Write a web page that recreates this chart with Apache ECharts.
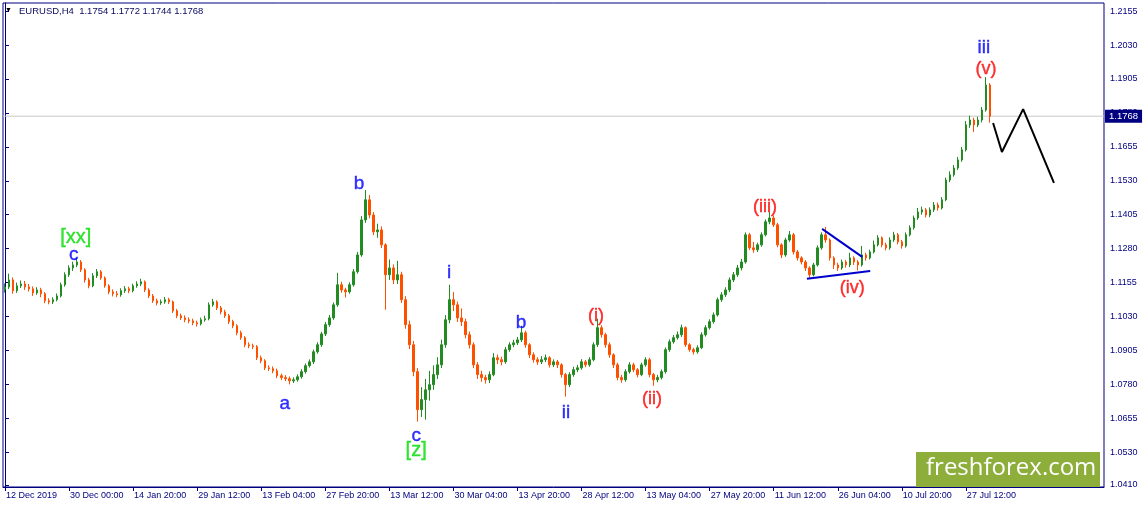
<!DOCTYPE html>
<html><head><meta charset="utf-8">
<script src="https://cdn.jsdelivr.net/npm/echarts@6/dist/echarts.min.js"></script>
<style>html,body{margin:0;padding:0;background:#fff}#c{width:1145px;height:509px}</style>
</head><body><div id="c"></div>
<script>
// ---- x axis (each slot = 4 H4 bars) ----
const tickLabels = ['12 Dec 2019','30 Dec 00:00','14 Jan 20:00','29 Jan 12:00','13 Feb 04:00','27 Feb 20:00','13 Mar 12:00','30 Mar 04:00','13 Apr 20:00','28 Apr 12:00','13 May 04:00','27 May 20:00','11 Jun 12:00','26 Jun 04:00','10 Jul 20:00','27 Jul 12:00'];
const tickStep = 16;
const slotCount = 275;

// ---- y axis ----
const yTicks = [1.2155,1.2030,1.1905,1.1780,1.1655,1.1530,1.1405,1.1280,1.1155,1.1030,1.0905,1.0780,1.0655,1.0530,1.0410];
const yMin = 1.0402, yMax = 1.2185;

// ---- price data ----
const opens = [1.1130,1.1139,1.1165,1.1125,1.1143,1.1150,1.1139,1.1132,1.1117,1.1128,
1.1114,1.1088,1.1084,1.1092,1.1106,1.1147,1.1184,1.1209,1.1220,1.1231,
1.1202,1.1165,1.1143,1.1180,1.1195,1.1172,1.1143,1.1121,1.1114,1.1110,
1.1125,1.1132,1.1125,1.1143,1.1150,1.1158,1.1128,1.1106,1.1088,1.1080,
1.1084,1.1092,1.1084,1.1051,1.1033,1.1025,1.1018,1.1014,1.1007,1.1003,
1.1018,1.1022,1.1073,1.1084,1.1062,1.1047,1.1033,1.1011,1.0996,1.0970,
1.0952,1.0926,1.0922,1.0919,1.0878,1.0867,1.0841,1.0838,1.0830,1.0812,
1.0805,1.0801,1.0793,1.0797,1.0808,1.0827,1.0849,1.0863,1.0900,1.0926,
1.0966,1.1000,1.1025,1.1073,1.1147,1.1128,1.1121,1.1147,1.1195,1.1257,
1.1386,1.1460,1.1404,1.1342,1.1349,1.1294,1.1184,1.1209,1.1165,1.1184,
1.1092,1.1000,1.0926,1.0827,1.0687,1.0724,1.0760,1.0779,1.0816,1.0852,
1.0926,1.1018,1.1092,1.1073,1.1025,1.1011,1.0963,1.0926,1.0852,1.0816,
1.0805,1.0797,1.0816,1.0878,1.0871,1.0863,1.0908,1.0926,1.0933,1.0944,
1.0970,1.0926,1.0889,1.0871,1.0863,1.0871,1.0878,1.0852,1.0863,1.0852,
1.0816,1.0779,1.0816,1.0834,1.0841,1.0863,1.0852,1.0871,1.0926,1.0989,
1.0963,1.0926,1.0889,1.0852,1.0805,1.0797,1.0827,1.0852,1.0834,1.0816,
1.0852,1.0871,1.0816,1.0797,1.0805,1.0827,1.0908,1.0937,1.0952,1.0963,
1.0989,1.0926,1.0908,1.0900,1.0915,1.0963,1.0989,1.1011,1.1036,1.1092,
1.1110,1.1128,1.1165,1.1184,1.1209,1.1231,1.1331,1.1283,1.1276,1.1294,
1.1331,1.1379,1.1393,1.1368,1.1294,1.1257,1.1312,1.1331,1.1268,1.1246,
1.1231,1.1209,1.1184,1.1220,1.1283,1.1331,1.1312,1.1246,1.1220,1.1209,
1.1231,1.1220,1.1246,1.1231,1.1220,1.1257,1.1246,1.1268,1.1294,1.1320,
1.1294,1.1283,1.1312,1.1331,1.1305,1.1290,1.1331,1.1357,1.1393,1.1415,
1.1423,1.1404,1.1423,1.1441,1.1430,1.1460,1.1533,1.1552,1.1577,1.1607,
1.1644,1.1736,1.1754,1.1736,1.1754,1.1791,1.1883];
const closes = [1.1139,1.1165,1.1125,1.1143,1.1150,1.1139,1.1132,1.1117,1.1128,1.1114,
1.1088,1.1084,1.1092,1.1106,1.1147,1.1184,1.1209,1.1220,1.1231,1.1202,
1.1165,1.1143,1.1180,1.1195,1.1172,1.1143,1.1121,1.1114,1.1110,1.1125,
1.1132,1.1125,1.1143,1.1150,1.1158,1.1128,1.1106,1.1088,1.1080,1.1084,
1.1092,1.1084,1.1051,1.1033,1.1025,1.1018,1.1014,1.1007,1.1003,1.1018,
1.1022,1.1073,1.1084,1.1062,1.1047,1.1033,1.1011,1.0996,1.0970,1.0952,
1.0926,1.0922,1.0919,1.0878,1.0867,1.0841,1.0838,1.0830,1.0812,1.0805,
1.0801,1.0793,1.0797,1.0808,1.0827,1.0849,1.0863,1.0900,1.0926,1.0966,
1.1000,1.1025,1.1073,1.1147,1.1128,1.1121,1.1147,1.1195,1.1257,1.1386,
1.1460,1.1404,1.1342,1.1349,1.1294,1.1184,1.1209,1.1165,1.1184,1.1092,
1.1000,1.0926,1.0827,1.0687,1.0724,1.0760,1.0779,1.0816,1.0852,1.0926,
1.1018,1.1092,1.1073,1.1025,1.1011,1.0963,1.0926,1.0852,1.0816,1.0805,
1.0797,1.0816,1.0878,1.0871,1.0863,1.0908,1.0926,1.0933,1.0944,1.0970,
1.0926,1.0889,1.0871,1.0863,1.0871,1.0878,1.0852,1.0863,1.0852,1.0816,
1.0779,1.0816,1.0834,1.0841,1.0863,1.0852,1.0871,1.0926,1.0989,1.0963,
1.0926,1.0889,1.0852,1.0805,1.0797,1.0827,1.0852,1.0834,1.0816,1.0852,
1.0871,1.0816,1.0797,1.0805,1.0827,1.0908,1.0937,1.0952,1.0963,1.0989,
1.0926,1.0908,1.0900,1.0915,1.0963,1.0989,1.1011,1.1036,1.1092,1.1110,
1.1128,1.1165,1.1184,1.1209,1.1231,1.1331,1.1283,1.1276,1.1294,1.1331,
1.1379,1.1393,1.1368,1.1294,1.1257,1.1312,1.1331,1.1268,1.1246,1.1231,
1.1209,1.1184,1.1220,1.1283,1.1331,1.1312,1.1246,1.1220,1.1209,1.1231,
1.1220,1.1246,1.1231,1.1220,1.1257,1.1246,1.1268,1.1294,1.1320,1.1294,
1.1283,1.1312,1.1331,1.1305,1.1290,1.1331,1.1357,1.1393,1.1415,1.1423,
1.1404,1.1423,1.1441,1.1430,1.1460,1.1533,1.1552,1.1577,1.1607,1.1644,
1.1736,1.1754,1.1736,1.1754,1.1791,1.1883,1.1768];
const highs = [1.1152,1.1188,1.1174,1.1155,1.1163,1.1161,1.1150,1.1141,1.1138,1.1136,
1.1120,1.1097,1.1101,1.1115,1.1155,1.1193,1.1219,1.1232,1.1246,1.1238,
1.1208,1.1172,1.1190,1.1205,1.1201,1.1178,1.1149,1.1130,1.1124,1.1134,
1.1142,1.1140,1.1151,1.1160,1.1169,1.1163,1.1134,1.1113,1.1096,1.1093,
1.1102,1.1099,1.1089,1.1058,1.1041,1.1034,1.1027,1.1022,1.1015,1.1026,
1.1033,1.1082,1.1095,1.1090,1.1069,1.1055,1.1040,1.1018,1.1002,1.0978,
1.0958,1.0935,1.0930,1.0925,1.0886,1.0873,1.0850,1.0846,1.0838,1.0820,
1.0814,1.0809,1.0806,1.0817,1.0836,1.0857,1.0872,1.0908,1.0935,1.0974,
1.1010,1.1036,1.1082,1.1191,1.1158,1.1136,1.1156,1.1205,1.1268,1.1400,
1.1496,1.1478,1.1415,1.1372,1.1362,1.1300,1.1240,1.1222,1.1235,1.1195,
1.1105,1.1015,1.0940,1.0840,1.0770,1.0800,1.0830,1.0850,1.0880,1.0945,
1.1035,1.1147,1.1120,1.1085,1.1060,1.1022,1.0975,1.0935,1.0862,1.0830,
1.0815,1.0828,1.0895,1.0890,1.0882,1.0918,1.0935,1.0944,1.0955,1.0996,
1.0978,1.0932,1.0898,1.0880,1.0884,1.0890,1.0884,1.0872,1.0870,1.0858,
1.0822,1.0825,1.0845,1.0852,1.0873,1.0870,1.0880,1.0935,1.1022,1.0998,
1.0970,1.0935,1.0895,1.0860,1.0815,1.0836,1.0862,1.0860,1.0840,1.0860,
1.0880,1.0878,1.0822,1.0815,1.0835,1.0916,1.0946,1.0962,1.0975,1.1000,
1.0994,1.0932,1.0915,1.0924,1.0972,1.0998,1.1020,1.1045,1.1100,1.1120,
1.1138,1.1174,1.1194,1.1220,1.1242,1.1340,1.1338,1.1305,1.1302,1.1340,
1.1388,1.1415,1.1402,1.1375,1.1300,1.1320,1.1345,1.1338,1.1275,1.1252,
1.1238,1.1215,1.1228,1.1292,1.1340,1.1360,1.1318,1.1252,1.1228,1.1240,
1.1238,1.1265,1.1252,1.1238,1.1290,1.1265,1.1276,1.1310,1.1330,1.1325,
1.1302,1.1322,1.1342,1.1338,1.1312,1.1340,1.1366,1.1402,1.1430,1.1435,
1.1430,1.1432,1.1452,1.1450,1.1470,1.1542,1.1565,1.1588,1.1618,1.1655,
1.1750,1.1770,1.1762,1.1766,1.1802,1.1912,1.1890];
const lows = [1.1118,1.1131,1.1114,1.1117,1.1135,1.1128,1.1122,1.1106,1.1110,1.1101,
1.1079,1.1075,1.1076,1.1086,1.1100,1.1140,1.1176,1.1198,1.1212,1.1194,
1.1155,1.1134,1.1138,1.1172,1.1165,1.1136,1.1112,1.1104,1.1101,1.1103,
1.1117,1.1116,1.1119,1.1136,1.1142,1.1120,1.1098,1.1080,1.1071,1.1073,
1.1077,1.1076,1.1043,1.1024,1.1017,1.1009,1.1005,1.0998,1.0993,1.0997,
1.1011,1.1016,1.1066,1.1054,1.1038,1.1025,1.1002,1.0987,1.0961,1.0944,
1.0917,1.0913,1.0910,1.0870,1.0858,1.0833,1.0829,1.0821,1.0803,1.0796,
1.0792,1.0780,1.0785,1.0790,1.0801,1.0820,1.0842,1.0855,1.0893,1.0918,
1.0958,1.0992,1.1018,1.1066,1.1118,1.1100,1.1114,1.1140,1.1188,1.1250,
1.1375,1.1392,1.1330,1.1320,1.1282,1.1055,1.1165,1.1150,1.1150,1.1080,
1.0985,1.0910,1.0810,1.0643,1.0660,1.0650,1.0720,1.0760,1.0800,1.0840,
1.0915,1.1005,1.1050,1.1010,1.0995,1.0950,1.0912,1.0840,1.0800,1.0790,
1.0783,1.0785,1.0810,1.0855,1.0850,1.0856,1.0900,1.0917,1.0925,1.0936,
1.0915,1.0877,1.0860,1.0852,1.0855,1.0862,1.0842,1.0844,1.0840,1.0805,
1.0735,1.0770,1.0808,1.0825,1.0834,1.0843,1.0845,1.0865,1.0918,1.0952,
1.0915,1.0878,1.0840,1.0795,1.0786,1.0790,1.0820,1.0825,1.0806,1.0810,
1.0845,1.0806,1.0775,1.0788,1.0798,1.0820,1.0900,1.0930,1.0945,1.0955,
1.0918,1.0900,1.0890,1.0893,1.0910,1.0956,1.0982,1.1004,1.1030,1.1084,
1.1102,1.1120,1.1157,1.1176,1.1200,1.1225,1.1275,1.1265,1.1268,1.1287,
1.1325,1.1370,1.1360,1.1285,1.1245,1.1250,1.1305,1.1258,1.1236,1.1222,
1.1198,1.1169,1.1178,1.1214,1.1276,1.1302,1.1236,1.1205,1.1198,1.1202,
1.1210,1.1212,1.1220,1.1200,1.1214,1.1236,1.1240,1.1262,1.1288,1.1285,
1.1274,1.1276,1.1305,1.1296,1.1280,1.1284,1.1325,1.1350,1.1386,1.1405,
1.1395,1.1396,1.1415,1.1420,1.1424,1.1455,1.1525,1.1545,1.1570,1.1600,
1.1638,1.1725,1.1710,1.1728,1.1745,1.1785,1.1744];
const lastBar = {open: 1.1754, high: 1.1772, low: 1.1744, close: 1.1768};

// ---- wave annotations (slot position, price) ----
const waveText  = ['[xx]','c','b','a','c','[z]','i','b','ii','(i)','(ii)','(iii)','(iv)','iii','(v)'];
const waveSlot  = [17.7,17.2,88.4,69.9,102.7,102.7,110.9,128.9,140.1,147.6,161.6,189.8,211.6,244.5,245.0];
const wavePrice = [1.1320,1.1257,1.1518,1.0709,1.0591,1.0536,1.1191,1.1007,1.0676,1.1033,1.0727,1.1434,1.1136,1.2019,1.1942];
const waveDegree= ['major','minor','minor','minor','minor','major','minor','minor','minor','minute','minute','minute','minute','minor','minute'];

// triangle lines
const triUpperSlot = [204.1, 214.1], triUpperPrice = [1.1353, 1.1250];
const triLowerSlot = [200.3, 216.1], triLowerPrice = [1.1169, 1.1198];
// projected path
const projSlot = [246.8, 249.0, 254.3, 262.0], projPrice = [1.1743, 1.1636, 1.1794, 1.1522];

// ---- build ----
const NAVY = '#000080';
const UP = '#228B22', DOWN = '#FF5000';
const degreeColor = {major: '#00dd00', minor: '#0000ff', minute: '#ff0000'};
const degreeSize = {major: 20, minor: 19, minute: 18};
const FONT = '"Liberation Sans", Arial, sans-serif';

const categories = Array.from({length: slotCount}, (_, i) =>
  (i % tickStep === 0 && i / tickStep < tickLabels.length) ? tickLabels[i / tickStep] : '');
const showTick = (i) => i % tickStep === 0 && i / tickStep < tickLabels.length;
const candles = opens.map((o, i) => [o, closes[i], lows[i], highs[i]]);
const pts = (xs, ys) => xs.map((x, i) => [x, ys[i]]);

const chart = echarts.init(document.getElementById('c'), null, {renderer: 'canvas'});
chart.setOption({
  animation: false,
  backgroundColor: '#fff',
  grid: {left: 3, right: 41, top: 3, bottom: 22, show: true, borderColor: NAVY, borderWidth: 1, containLabel: false},
  xAxis: [{
    type: 'category', data: categories, boundaryGap: true,
    axisLine: {show: true, lineStyle: {color: NAVY, width: 1}},
    axisTick: {show: true, alignWithLabel: true, interval: showTick, length: 4, lineStyle: {color: NAVY}},
    axisLabel: {interval: showTick, color: NAVY, fontSize: 9, fontFamily: FONT, align: 'left', margin: 4, padding: [0, 0, 0, 1]},
    splitLine: {show: false}
  }, {
    type: 'value', min: -0.5, max: slotCount - 0.5, show: false
  }],
  yAxis: {
    type: 'value', position: 'right', min: yMin, max: yMax,
    axisLine: {show: true, lineStyle: {color: NAVY, width: 1}},
    axisTick: {show: true, customValues: yTicks, length: 4, lineStyle: {color: NAVY}},
    axisLabel: {customValues: yTicks, formatter: v => v.toFixed(4), color: NAVY, fontSize: 9, fontFamily: FONT, margin: 6},
    splitLine: {show: false}
  },
  series: [{
    // bid line at the last close, with its price tag at the right end
    type: 'line', xAxisIndex: 1, symbol: 'none', silent: true, z: 1,
    data: [[-0.5, lastBar.close], [slotCount - 0.5, lastBar.close]],
    lineStyle: {color: '#c8c8c8', width: 1},
    endLabel: {show: true, formatter: lastBar.close.toFixed(4), backgroundColor: NAVY, color: '#fff',
               fontSize: 9.5, fontFamily: FONT, padding: [2, 4, 1, 4], distance: 1}
  }, {
    type: 'candlestick', xAxisIndex: 0, data: candles, barWidth: 2, z: 2,
    itemStyle: {color: UP, color0: DOWN, borderColor: UP, borderColor0: DOWN, borderWidth: 1}
  }, {
    type: 'line', xAxisIndex: 1, data: pts(triUpperSlot, triUpperPrice), symbol: 'none',
    lineStyle: {color: '#0000cc', width: 2}, z: 5
  }, {
    type: 'line', xAxisIndex: 1, data: pts(triLowerSlot, triLowerPrice), symbol: 'none',
    lineStyle: {color: '#0000cc', width: 2}, z: 5
  }, {
    type: 'line', xAxisIndex: 1, data: pts(projSlot, projPrice), symbol: 'none',
    lineStyle: {color: '#000', width: 2}, z: 5
  }, {
    type: 'scatter', xAxisIndex: 1, symbolSize: 1, itemStyle: {color: 'rgba(0,0,0,0)'}, z: 6,
    data: waveText.map((t, i) => ({
      value: [waveSlot[i], wavePrice[i]], name: t,
      label: {show: true, position: 'inside', formatter: t, color: degreeColor[waveDegree[i]],
              textBorderColor: degreeColor[waveDegree[i]], textBorderWidth: 0.4,
              fontSize: degreeSize[waveDegree[i]], fontFamily: FONT, verticalAlign: 'middle', align: 'center'}
    }))
  }],
  graphic: [
    {type: 'text', left: 5, top: 7, style: {text: '▼', fontSize: 7, fill: '#000', fontFamily: FONT}},
    {type: 'text', left: 19, top: 6, style: {text: 'EURUSD,H4  1.1754 1.1772 1.1744 1.1768', fontSize: 9.5, fill: '#0a0a60', fontFamily: FONT}},
    {type: 'rect', left: 916, top: 452, shape: {width: 184, height: 35}, style: {fill: '#8dae3b'}},
    {type: 'text', left: 926, top: 456, style: {text: 'freshforex.com', fontSize: 24, fill: '#fff', fontFamily: '"Open Sans", sans-serif'}}
  ]
});
</script>
</body></html>
